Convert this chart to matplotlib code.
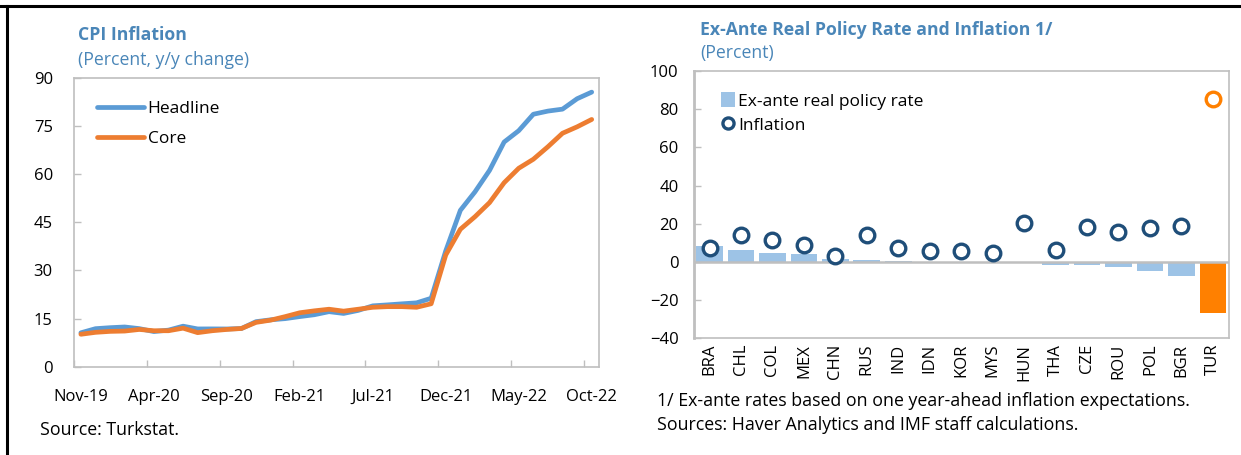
import matplotlib
matplotlib.use("Agg")
import matplotlib.pyplot as plt
from matplotlib.lines import Line2D
from matplotlib.patches import Patch
import numpy as np

plt.rcParams['font.family'] = ['Open Sans', 'DejaVu Sans']

# ---------------- data ----------------
months = ["Nov-19", "Dec-19", "Jan-20", "Feb-20", "Mar-20", "Apr-20", "May-20", "Jun-20",
          "Jul-20", "Aug-20", "Sep-20", "Oct-20", "Nov-20", "Dec-20", "Jan-21", "Feb-21",
          "Mar-21", "Apr-21", "May-21", "Jun-21", "Jul-21", "Aug-21", "Sep-21", "Oct-21",
          "Nov-21", "Dec-21", "Jan-22", "Feb-22", "Mar-22", "Apr-22", "May-22", "Jun-22",
          "Jul-22", "Aug-22", "Sep-22", "Oct-22"]
headline = [10.56, 11.84, 12.15, 12.37, 11.86, 10.94, 11.39, 12.62, 11.76, 11.77, 11.75, 11.89,
            14.03, 14.60, 14.97, 15.61, 16.19, 17.14, 16.59, 17.53, 18.95, 19.25, 19.58, 19.89,
            21.31, 36.08, 48.69, 54.44, 61.14, 69.97, 73.50, 78.62, 79.60, 80.21, 83.45, 85.51]
core = [10.1, 10.7, 11.0, 11.1, 11.6, 11.2, 11.2, 12.0, 10.6, 11.2, 11.6, 11.9,
        13.8, 14.5, 15.6, 16.8, 17.4, 17.9, 17.3, 17.9, 18.5, 18.7, 18.7, 18.5,
        19.6, 34.8, 42.8, 46.7, 51.1, 57.3, 61.8, 64.6, 68.5, 72.7, 74.7, 77.0]

countries = ["BRA", "CHL", "COL", "MEX", "CHN", "RUS", "IND", "IDN", "KOR", "MYS",
             "HUN", "THA", "CZE", "ROU", "POL", "BGR", "TUR"]
real_rate = [8.6, 6.1, 4.9, 4.4, 1.6, 0.9, 0.5, 0.1, 0.1, 0.1,
             0.0, -1.6, -1.4, -2.7, -4.6, -7.4, -26.9]
inflation = [7.4, 13.9, 11.3, 8.8, 2.9, 13.9, 7.4, 5.7, 5.7, 4.8,
             20.2, 6.4, 18.1, 15.8, 17.9, 18.8, 85.5]

# ---------------- style ----------------
W, H = 1241, 455
C_HEAD = "#5B9BD5"
C_CORE = "#ED7D31"
C_BAR = "#9DC3E6"
C_TUR = "#FF8000"
C_CIRC = "#1F4E79"
C_TITLE = "#4A86B8"
C_GRID = "#BFBFBF"
FS_TICK = 12
FS_TITLE = 12.7
FS_NOTE = 12.8

fig = plt.figure(figsize=(W / 100, H / 100), dpi=100)

def fx(px):
    return px / W

def fy(py):
    return 1 - py / H

# ---------------- left panel ----------------
axL = fig.add_axes([fx(73.6), fy(366.7), fx(599) - fx(73.6), fy(77.7) - fy(366.7)])
x = np.arange(len(months))
axL.plot(x, headline, color=C_HEAD, lw=3.4, solid_capstyle='round', label="Headline", zorder=2)
axL.plot(x, core, color=C_CORE, lw=3.4, solid_capstyle='round', label="Core", zorder=3)
axL.set_xlim(-0.5, len(months) - 0.5)
axL.set_ylim(0, 90)
axL.set_yticks(np.arange(0, 91, 15))
axL.set_xticks(np.arange(-0.5, len(months), 5))
axL.set_xticklabels([])
axL.set_xticks(np.arange(0, len(months), 5), minor=True)
axL.set_xticklabels([months[i] for i in range(0, len(months), 5)], minor=True)
axL.tick_params(axis='x', which='major', direction='in', length=5, color=C_GRID, width=1)
axL.tick_params(axis='x', which='minor', length=0, pad=16, labelsize=FS_TICK)
axL.tick_params(axis='y', direction='in', length=5, color=C_GRID, width=1, pad=15, labelsize=FS_TICK)
for s in axL.spines.values():
    s.set_color(C_GRID)
    s.set_linewidth(1.2)
axL.legend(loc='upper left', bbox_to_anchor=(0.012, 0.98), frameon=False, fontsize=12.5,
           handlelength=2.7, handletextpad=0.2, labelspacing=0.8, borderaxespad=0.6)

fig.text(fx(78), fy(35), "CPI Inflation", color=C_TITLE, fontsize=FS_TITLE, fontweight='bold',
         va='center', ha='left')
fig.text(fx(78), fy(60), "(Percent, y/y change)", color=C_TITLE, fontsize=FS_TITLE,
         va='center', ha='left')
fig.text(fx(40), fy(430), "Source: Turkstat.", fontsize=FS_NOTE, va='center', ha='left')

# ---------------- right panel ----------------
axR = fig.add_axes([fx(693.8), fy(338.3), fx(1228.6) - fx(693.8), fy(71) - fy(338.3)])
xc = np.arange(len(countries))
bar_colors = [C_TUR if c == "TUR" else C_BAR for c in countries]
axR.bar(xc, real_rate, width=0.85, color=bar_colors, zorder=2, label="Ex-ante real policy rate")
edge_colors = [C_TUR if c == "TUR" else C_CIRC for c in countries]
for xi, yi, ec in zip(xc, inflation, edge_colors):
    axR.plot([xi], [yi], 'o', ms=10.5, mfc='white', mec=ec, mew=2.4, zorder=4)
axR.axhline(0, color=C_GRID, lw=1.8, zorder=3)
axR.set_xlim(-0.5, len(countries) - 0.5)
axR.set_ylim(-40, 100)
axR.set_yticks(np.arange(-40, 101, 20))
axR.set_xticks(xc)
axR.set_xticklabels(countries, rotation=90, fontsize=FS_TICK)
axR.tick_params(axis='x', length=0, pad=4)
axR.tick_params(axis='y', direction='in', length=5, color=C_GRID, width=1, pad=11, labelsize=FS_TICK)
for s in axR.spines.values():
    s.set_color(C_GRID)
    s.set_linewidth(1.2)
axR.spines['left'].set_linewidth(2)
handles = [Patch(facecolor=C_BAR, edgecolor='none'),
           Line2D([], [], marker='o', ls='none', ms=8, mfc='white', mec=C_CIRC, mew=2.4)]
axR.legend(handles, ["Ex-ante real policy rate", "Inflation"], loc='upper left',
           bbox_to_anchor=(0.018, 0.985), frameon=False, fontsize=12.5, handlelength=0.8,
           handleheight=0.9, handletextpad=0.2, labelspacing=0.4, borderaxespad=0.6)

fig.text(fx(700), fy(30), "Ex-Ante Real Policy Rate and Inflation 1/", color=C_TITLE,
         fontsize=FS_TITLE, fontweight='bold', va='center', ha='left')
fig.text(fx(700), fy(53), "(Percent)", color=C_TITLE, fontsize=FS_TITLE, va='center', ha='left')
fig.text(fx(657), fy(401), "1/ Ex-ante rates based on one year-ahead inflation expectations.",
         fontsize=FS_NOTE, va='center', ha='left')
fig.text(fx(657), fy(425), "Sources: Haver Analytics and IMF staff calculations.",
         fontsize=FS_NOTE, va='center', ha='left')

# ---------------- frame lines ----------------
fig.add_artist(Line2D([0, 1], [fy(5.5), fy(5.5)], color='black', lw=2.2, transform=fig.transFigure))
fig.add_artist(Line2D([fx(7), fx(7)], [0, fy(5.5)], color='black', lw=2.2, transform=fig.transFigure))

fig.savefig("out.png", dpi=100)
